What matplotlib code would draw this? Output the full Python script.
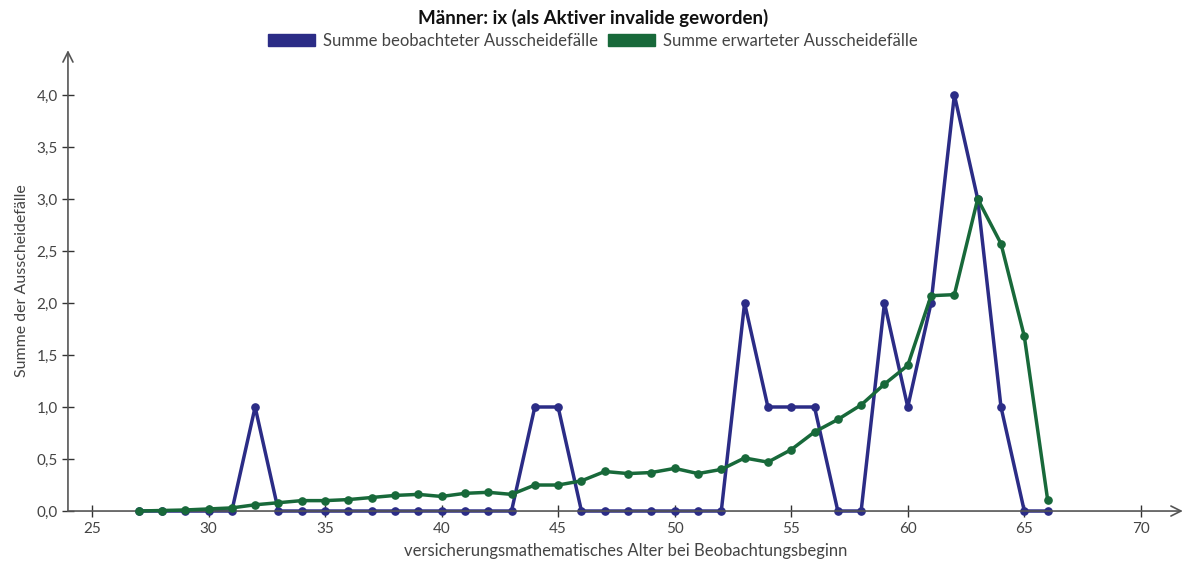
import matplotlib
matplotlib.use("Agg")
import matplotlib.pyplot as plt
from matplotlib.patches import Patch
from matplotlib.ticker import FuncFormatter

# Alter bei Beobachtungsbeginn
ages = list(range(27, 67))

# Summe beobachteter Ausscheidefaelle
observed = [0, 0, 0, 0, 0, 1, 0, 0, 0, 0,
            0, 0, 0, 0, 0, 0, 0, 1, 1, 0,
            0, 0, 0, 0, 0, 0, 2, 1, 1, 1,
            0, 0, 2, 1, 2, 4, 3, 1, 0, 0]

# Summe erwarteter Ausscheidefaelle
expected = [0.00, 0.005, 0.01, 0.02, 0.03, 0.06, 0.08, 0.10, 0.10, 0.11,
            0.13, 0.15, 0.16, 0.14, 0.17, 0.18, 0.16, 0.25, 0.25, 0.29,
            0.38, 0.36, 0.37, 0.41, 0.36, 0.40, 0.51, 0.47, 0.59, 0.76,
            0.88, 1.02, 1.22, 1.40, 2.07, 2.08, 3.00, 2.57, 1.68, 0.11]

x_ticks = [25, 30, 35, 40, 45, 50, 55, 60, 65, 70]
y_ticks = [0, 0.5, 1.0, 1.5, 2.0, 2.5, 3.0, 3.5, 4.0]

blue = "#2b2c86"
green = "#18693a"
axis_col = "#555555"
text_col = "#444444"

plt.rcParams['font.family'] = ['Lato', 'DejaVu Sans']

fig = plt.figure(figsize=(11.86, 5.62), dpi=100)
ax = fig.add_axes([0.0573, 0.0907, 0.94, 0.82])

ax.plot(ages, observed, color=blue, lw=2.5, marker='o', ms=5.2, clip_on=False, zorder=3)
ax.plot(ages, expected, color=green, lw=2.5, marker='o', ms=5.2, clip_on=False, zorder=4)

ax.set_xlim(23.97, 71.8)
ax.set_ylim(0, 4.43)

for s in ax.spines.values():
    s.set_visible(False)

# axes drawn as arrows
ax.annotate('', xy=(1, 0), xytext=(0, 0), xycoords='axes fraction',
            arrowprops=dict(arrowstyle='->', color=axis_col, lw=1.2,
                            mutation_scale=18, shrinkA=0, shrinkB=0))
ax.annotate('', xy=(0, 1), xytext=(0, 0), xycoords='axes fraction',
            arrowprops=dict(arrowstyle='->', color=axis_col, lw=1.2,
                            mutation_scale=18, shrinkA=0, shrinkB=0))

ax.set_xticks(x_ticks)
ax.set_yticks(y_ticks)
ax.yaxis.set_major_formatter(FuncFormatter(lambda v, p: f"{v:.1f}".replace('.', ',')))
ax.tick_params(direction='inout', length=8, width=1, color='#333333',
               labelcolor=text_col, labelsize=11)
ax.tick_params(axis='x', pad=4)

ax.set_xlabel('versicherungsmathematisches Alter bei Beobachtungsbeginn',
              color=text_col, fontsize=12, labelpad=5)
ax.set_ylabel('Summe der Ausscheidefälle', color=text_col, fontsize=11.5, labelpad=5)

fig.text(0.5, 0.968, 'Männer: ix (als Aktiver invalide geworden)',
         ha='center', va='center', fontsize=13.5, fontweight='bold', color='#111111')

handles = [Patch(color=blue), Patch(color=green)]
fig.legend(handles, ['Summe beobachteter Ausscheidefälle', 'Summe erwarteter Ausscheidefälle'],
           loc='center', bbox_to_anchor=(0.5, 0.927), ncol=2, frameon=False,
           fontsize=12, labelcolor=text_col, handlelength=2.8, handleheight=0.75,
           handletextpad=0.5, columnspacing=0.6)

fig.savefig('out.png', dpi=100, facecolor='white')
